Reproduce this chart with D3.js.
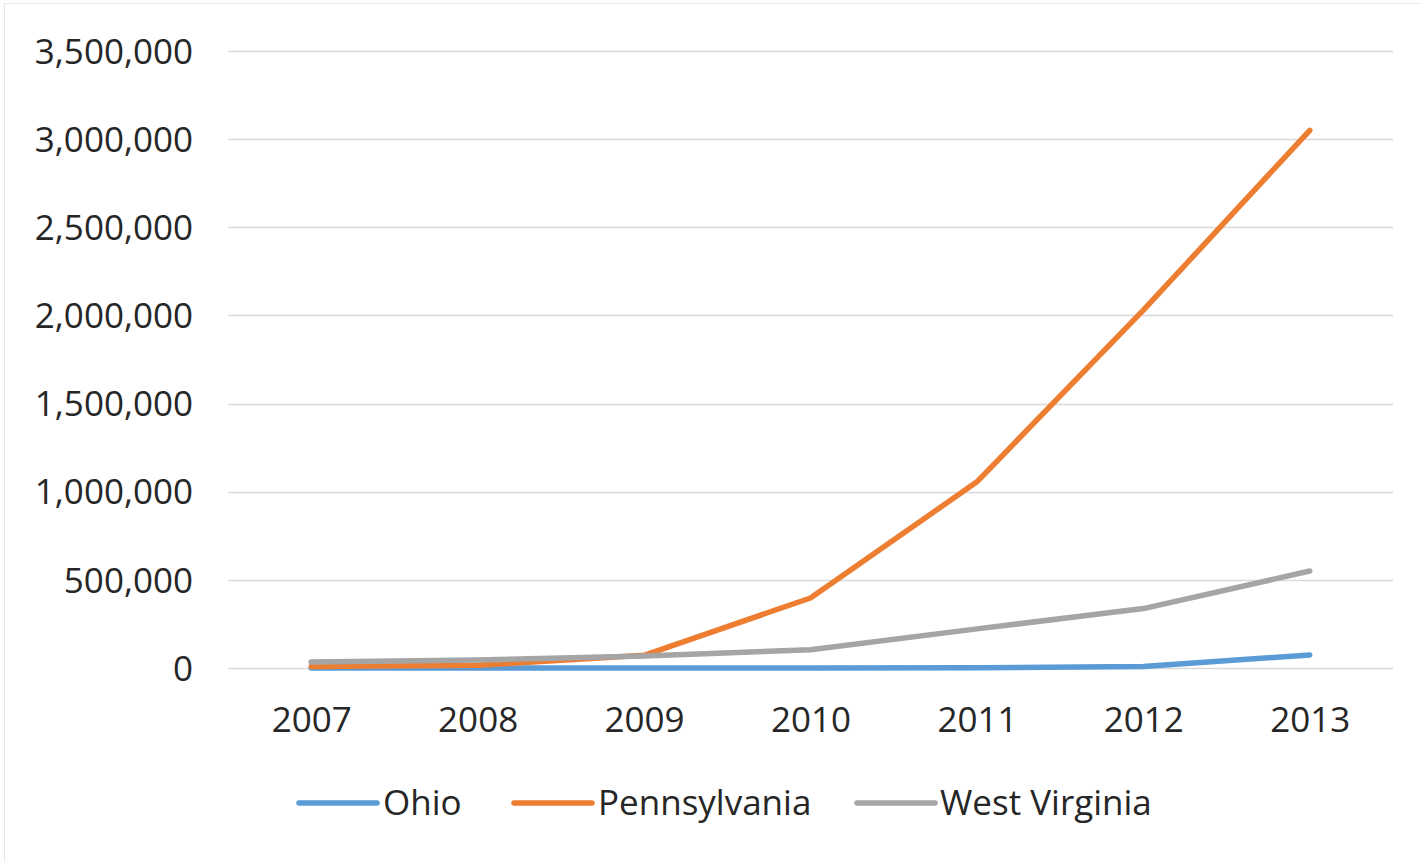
<!DOCTYPE html>
<html>
<head>
<meta charset="utf-8">
<script src="https://cdn.jsdelivr.net/npm/d3@7"></script>
<style>
  html, body { margin: 0; padding: 0; background: #ffffff; }
  svg { display: block; }
  text { font-family: "Open Sans", "DejaVu Sans", sans-serif; fill: #262626; }
</style>
</head>
<body>
<svg id="chart" width="1421" height="862"></svg>
<script>
// Annual gas production by state
const years = ["2007", "2008", "2009", "2010", "2011", "2012", "2013"];
const ohio = [0, 0, 0, 0, 2000, 8000, 74000];
const pennsylvania = [8000, 15000, 72000, 397000, 1056000, 2030000, 3050000];
const westVirginia = [34000, 46000, 68000, 104000, 222000, 337000, 550000];
const yTicks = [0, 500000, 1000000, 1500000, 2000000, 2500000, 3000000, 3500000];

const seriesNames = ["Ohio", "Pennsylvania", "West Virginia"];
const seriesColors = ["#5B9BD5", "#ED7D31", "#A5A5A5"];
const seriesValues = [ohio, pennsylvania, westVirginia];

const svg = d3.select("#chart");

// faint frame of the chart area
svg.append("rect")
  .attr("x", 4.5).attr("y", 3.5)
  .attr("width", 1430).attr("height", 870)
  .attr("fill", "none")
  .attr("stroke", "#e6e6e6")
  .attr("stroke-width", 1);

const plot = { left: 228, right: 1393, top: 51, bottom: 668 };

const x = d3.scalePoint()
  .domain(years)
  .range([plot.left, plot.right])
  .padding(0.5);

const y = d3.scaleLinear()
  .domain([0, 3500000])
  .range([plot.bottom, plot.top]);

const fmt = d3.format(",");
const textColor = "#262626";

// horizontal gridlines
svg.append("g")
  .selectAll("line")
  .data(yTicks)
  .join("line")
  .attr("x1", plot.left).attr("x2", plot.right)
  .attr("y1", d => Math.round(y(d)) + 0.5)
  .attr("y2", d => Math.round(y(d)) + 0.5)
  .attr("stroke", "#d9d9d9")
  .attr("stroke-width", 1.5);

// y axis labels
const yAxis = d3.axisLeft(y).tickValues(yTicks).tickFormat(fmt).tickSize(0).tickPadding(0);
svg.append("g")
  .attr("transform", `translate(${193},0)`)
  .call(yAxis)
  .call(g => g.select(".domain").remove())
  .selectAll("text")
  .attr("font-size", 35)
  .attr("dy", "0.35em")
  .style("font-family", '"Open Sans", sans-serif')
  .attr("fill", textColor);

// x axis labels
const xAxis = d3.axisBottom(x).tickSize(0).tickPadding(0);
svg.append("g")
  .attr("transform", `translate(0,${720})`)
  .call(xAxis)
  .call(g => g.select(".domain").remove())
  .selectAll("text")
  .attr("font-size", 35)
  .attr("dy", "0.35em")
  .style("font-family", '"Open Sans", sans-serif')
  .attr("fill", textColor);

// series lines (last series drawn on top)
const line = d3.line()
  .x((d, i) => x(years[i]))
  .y(d => y(d));

seriesValues.forEach((vals, i) => {
  svg.append("path")
    .datum(vals)
    .attr("d", line)
    .attr("fill", "none")
    .attr("stroke", seriesColors[i])
    .attr("stroke-width", 5.5)
    .attr("stroke-linejoin", "round")
    .attr("stroke-linecap", "round");
});

// legend
const legendItems = [
  { x0: 299, x1: 377, tx: 383 },
  { x0: 514, x1: 592, tx: 598 },
  { x0: 857, x1: 935, tx: 940 }
];
const legendY = 803;
const legend = svg.append("g");
seriesNames.forEach((name, i) => {
  const it = legendItems[i];
  legend.append("line")
    .attr("x1", it.x0).attr("x2", it.x1)
    .attr("y1", legendY).attr("y2", legendY)
    .attr("stroke", seriesColors[i])
    .attr("stroke-width", 5.5)
    .attr("stroke-linecap", "round");
  legend.append("text")
    .attr("x", it.tx).attr("y", legendY)
    .attr("dy", "0.35em")
    .attr("font-size", 35)
    .attr("fill", textColor)
    .text(name);
});
</script>
</body>
</html>
